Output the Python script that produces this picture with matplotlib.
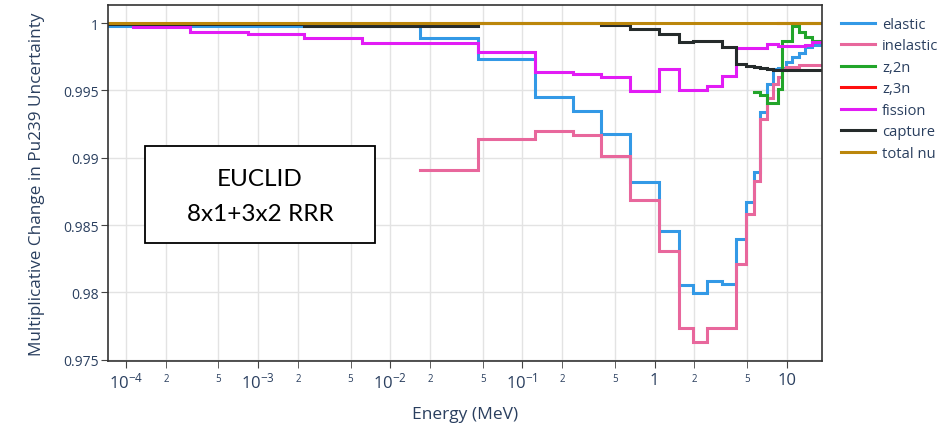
import numpy as np
import matplotlib
matplotlib.use("Agg")
import matplotlib.pyplot as plt
from matplotlib.patches import Rectangle

nan = np.nan

# Group boundaries (MeV)
edges = [5.0e-5, 1.136e-4, 3.05e-4, 8.34e-4, 2.22e-3, 6.14e-3, 0.0168, 0.0459, 0.1245, 0.240,
         0.393, 0.652, 1.08, 1.53, 1.95, 2.49, 3.24, 4.13, 4.92, 5.65,
         6.28, 7.06, 7.88, 8.59, 9.21, 9.88, 10.97, 12.39, 13.76, 15.54, 20.0]

elastic = [0.99981, 0.99981, 0.99981, 0.99981, 0.99981, 0.99981, 0.99886, 0.99733, 0.99453, 0.99349,
           0.99176, 0.98823, 0.98458, 0.98051, 0.97995, 0.98082, 0.98062, 0.98396, 0.98673, 0.98896,
           0.99337, 0.99547, 0.99660, 0.99665, 0.99665, 0.99710, 0.99750, 0.99780, 0.99820, 0.99840]

inelastic = [nan, nan, nan, nan, nan, nan, 0.98908, 0.99139, 0.99200, 0.99168,
             0.99015, 0.98688, 0.98305, 0.97735, 0.97633, 0.97735, 0.97735, 0.98210, 0.98582, 0.98829,
             0.99287, 0.99441, 0.99550, 0.99600, 0.99660, 0.99670, 0.99675, 0.99688, 0.99688, 0.99690]

z2n = [nan] * 19 + [0.99490, 0.99468, 0.99404, 0.99404, 0.99510, 0.99869, 0.99869, 0.99980, 0.99932,
                    0.99895, 0.99869]

z3n = [nan] * 23 + [1.0, 1.0, 1.0, 1.0, 1.0, 1.0, 1.0]

fission = [nan, 0.99968, 0.99935, 0.99921, 0.99889, 0.99855, 0.99855, 0.99782, 0.99638, 0.99621,
           0.99600, 0.99495, 0.99659, 0.99502, 0.99502, 0.99530, 0.99606, 0.99814, 0.99814, 0.99814,
           0.99814, 0.99844, 0.99844, 0.99829, 0.99829, 0.99829, 0.99829, 0.99830, 0.99835, 0.99857]

capture = [0.99993, 0.99993, 0.99993, 0.99993, 0.99978, 0.99978, 0.99978, 0.99998, 0.99998, 0.99998,
           0.99985, 0.99952, 0.99921, 0.99857, 0.99864, 0.99864, 0.99820, 0.99696, 0.99684, 0.99671,
           0.99665, 0.99658, 0.99653, 0.99648, 0.99648, 0.99648, 0.99648, 0.99648, 0.99648, 0.99648]

total_nu = [1.0] * 30

series = [
    ("elastic", elastic, "#3399e6"),
    ("inelastic", inelastic, "#e8679c"),
    ("z,2n", z2n, "#22a52a"),
    ("z,3n", z3n, "#ff1010"),
    ("fission", fission, "#e21cf5"),
    ("capture", capture, "#252b2b"),
    ("total nu", total_nu, "#bb860b"),
]

major_ticks = [1e-4, 1e-3, 1e-2, 1e-1, 1, 10]
major_labels = [r"$10^{-4}$", r"$10^{-3}$", r"$10^{-2}$", r"$10^{-1}$", "1", "10"]
minor_ticks = [m * 10.0 ** k for k in range(-4, 1) for m in (2, 5)]
minor_labels = [str(m) for k in range(-4, 1) for m in (2, 5)]
y_ticks = [0.975, 0.98, 0.985, 0.99, 0.995, 1.0]
y_labels = ["0.975", "0.98", "0.985", "0.99", "0.995", "1"]

plt.rcParams['font.family'] = ['Open Sans', 'DejaVu Sans']
plt.rcParams['mathtext.fontset'] = 'custom'
plt.rcParams['mathtext.rm'] = 'Open Sans'
plt.rcParams['mathtext.it'] = 'Open Sans'

W, H = 941, 427
fig = plt.figure(figsize=(W / 100, H / 100), dpi=100)
L, R, T, B = 108.3, 822.3, 6, 361.7
ax = fig.add_axes([L / W, 1 - B / H, (R - L) / W, (B - T) / H])

txtc = "#2a3f5f"
for name, vals, col in series:
    x = np.array(edges)
    y = np.array(list(vals) + [vals[-1]])
    ax.step(x, y, where="post", color=col, lw=2.2, label=name, solid_joinstyle="miter")

ax.set_xscale("log")
ax.set_xticks(major_ticks, major_labels)
ax.set_xticks(minor_ticks, minor_labels, minor=True)
ax.set_yticks(y_ticks, y_labels)
ax.set_xlim(7.34e-5, 18.6)
ax.set_ylim(1 - (B - 24) / 13467, 1 + (24 - T) / 13467)

ax.tick_params(axis="x", which="major", labelsize=12, colors="#444444", labelcolor=txtc, length=5, pad=3)
ax.tick_params(axis="x", which="minor", labelsize=7, colors="#444444", labelcolor=txtc, length=5, pad=4)
ax.tick_params(axis="y", labelsize=10, colors="#444444", labelcolor=txtc, length=5, pad=2)

ax.grid(True, which="both", axis="x", color="#e3e3e3", lw=1)
ax.grid(True, which="major", axis="y", color="#e3e3e3", lw=1)
ax.set_axisbelow(True)
for s in ax.spines.values():
    s.set_color("#333333")
    s.set_linewidth(1.2)

ax.set_ylabel("Multiplicative Change in Pu239 Uncertainty", fontsize=12.3, color=txtc, labelpad=13)
ax.set_xlabel("Energy (MeV)", fontsize=12.5, color=txtc, labelpad=10)

leg = ax.legend(loc="upper left", bbox_to_anchor=(841 / W, 1 - 18 / H), bbox_transform=fig.transFigure,
                frameon=False, fontsize=10.6, handlelength=2.3, handletextpad=0.5, labelspacing=0.44,
                borderaxespad=0, borderpad=0)
for t in leg.get_texts():
    t.set_color(txtc)

# annotation box
bx0, bx1, by0, by1 = 145, 375, 147, 244
fig.patches.append(Rectangle((bx0 / W, 1 - by1 / H), (bx1 - bx0) / W, (by1 - by0) / H,
                             transform=fig.transFigure, fill=True, facecolor="white",
                             edgecolor="black", lw=1.3, zorder=10))
fig.text(260 / W, 1 - 180 / H, "EUCLID", ha="center", va="center", fontsize=17.5,
         family=["Lato", "DejaVu Sans"], color="black", zorder=11)
fig.text(260 / W, 1 - 215 / H, "8x1+3x2 RRR", ha="center", va="center", fontsize=17.5,
         family=["Lato", "DejaVu Sans"], color="black", zorder=11)

fig.savefig("out.png", dpi=100)
